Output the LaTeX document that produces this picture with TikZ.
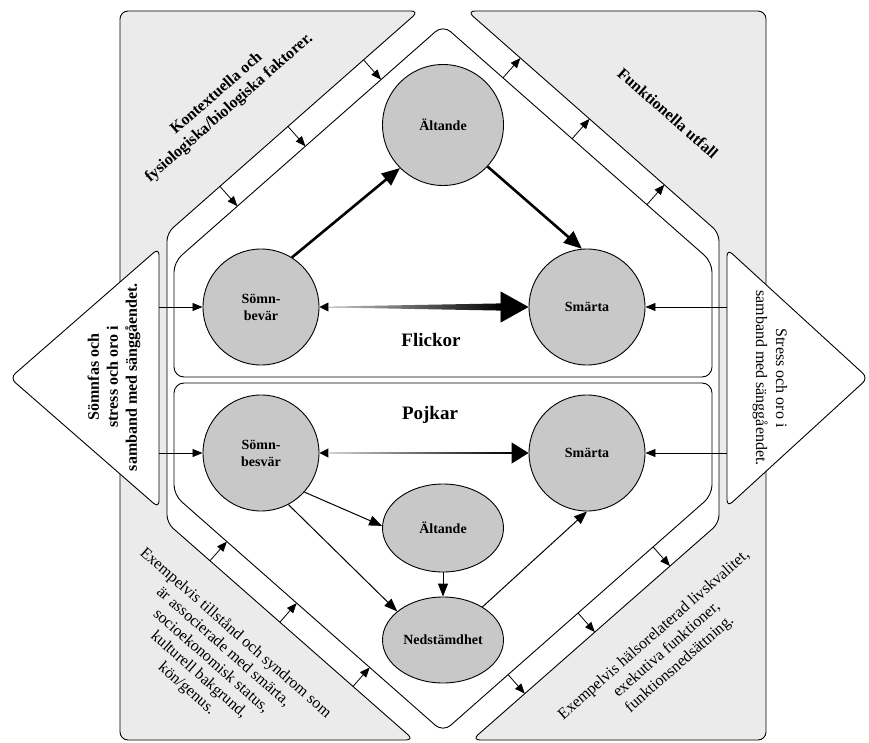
\documentclass[tikz,border=0pt]{standalone}
\usepackage{fontspec}
\setmainfont{Liberation Serif}
\usetikzlibrary{arrows.meta,shapes.geometric,calc}
\definecolor{panelgray}{RGB}{235,235,235}
\definecolor{nodegray}{RGB}{200,200,200}
\begin{document}
\begin{tikzpicture}[x=1pt,y=-1pt,
  panel/.style={draw=black, line width=0.9pt, fill=panelgray, rounded corners=8pt},
  tri/.style={draw=black, line width=0.9pt, fill=white, rounded corners=7pt},
  pent/.style={draw=black, line width=0.9pt, fill=white, rounded corners=10pt},
  circ/.style={circle, draw=black, line width=0.9pt, fill=nodegray, inner sep=0pt, align=center,
    font={\fontsize{14}{17}\selectfont\bfseries}},
  ell/.style={ellipse, draw=black, line width=0.9pt, fill=nodegray, inner sep=0pt, align=center,
    font={\fontsize{14}{17}\selectfont\bfseries}},
  bandarrow/.style={line width=0.8pt, -{Triangle[length=10pt,width=8pt]}},
  sidearrow/.style={line width=0.8pt, -{Triangle[length=10pt,width=8pt]}},
  midarrow/.style={line width=1pt, -{Triangle[length=13pt,width=10pt]}},
  bigarrow/.style={line width=2.6pt, -{Triangle[length=18pt,width=15pt]}},
  boldtxt/.style={align=center, font={\fontsize{16}{19}\selectfont\bfseries}},
  plaintxt/.style={align=center, font={\fontsize{16}{18.5}\selectfont}},
  grouplbl/.style={font={\fontsize{19}{22}\selectfont\bfseries}}
]
\useasboundingbox (0,0) rectangle (869,743);

% ---------- gray side panels ----------
\coordinate (GL1) at (120,11);
\coordinate (GL2) at (419,11);
\coordinate (GL3) at (167,233);
\coordinate (GL4) at (167,523);
\coordinate (GL5) at (414,740);
\coordinate (GL6) at (120,740);
\coordinate (GR1) at (766,11);
\coordinate (GR2) at (467,11);
\coordinate (GR3) at (719,233);
\coordinate (GR4) at (719,523);
\coordinate (GR5) at (472,740);
\coordinate (GR6) at (766,740);
\draw[panel] (GL1) -- (GL2) -- (GL3) -- (GL4) -- (GL5) -- (GL6) -- cycle;
\draw[panel] (GR1) -- (GR2) -- (GR3) -- (GR4) -- (GR5) -- (GR6) -- cycle;

% ---------- side triangles ----------
\coordinate (TLa) at (10,378);
\coordinate (TLb) at (159,248);
\coordinate (TLc) at (159,508);
\coordinate (TRa) at (868,378);
\coordinate (TRb) at (727,249);
\coordinate (TRc) at (727,507);
\draw[tri] (TLa) -- (TLb) -- (TLc) -- cycle;
\draw[tri] (TRa) -- (TRb) -- (TRc) -- cycle;

% ---------- central hexagon halves ----------
\coordinate (HF1) at (443,25);
\coordinate (HF2) at (174,262);
\coordinate (HF3) at (174,377);
\coordinate (HF4) at (712,377);
\coordinate (HF5) at (712,262);
\coordinate (HP1) at (174,383);
\coordinate (HP2) at (712,383);
\coordinate (HP3) at (712,495);
\coordinate (HP4) at (443,732);
\coordinate (HP5) at (174,495);
\draw[pent] (HF1) -- (HF5) -- (HF4) -- (HF3) -- (HF2) -- cycle;
\draw[pent] (HP1) -- (HP2) -- (HP3) -- (HP4) -- (HP5) -- cycle;

% ---------- band arrows ----------
\foreach \n/\t in {1/0.22,2/0.52,3/0.79}{
  \coordinate (ul\n) at ($(GL2)!\t!(GL3)$);
  \coordinate (ul\n t) at ($(HF1)!(ul\n)!(HF2)$);
  \draw[bandarrow] (ul\n) -- (ul\n t);
}
\foreach \n/\t in {1/0.223,2/0.48,3/0.758}{
  \coordinate (ur\n) at ($(HF1)!\t!(HF5)$);
  \coordinate (ur\n t) at ($(GR2)!(ur\n)!(GR3)$);
  \draw[bandarrow] (ur\n) -- (ur\n t);
}
\foreach \n/\t in {1/0.174,2/0.457,3/0.753}{
  \coordinate (ll\n) at ($(GL4)!\t!(GL5)$);
  \coordinate (ll\n t) at ($(HP5)!(ll\n)!(HP4)$);
  \draw[bandarrow] (ll\n) -- (ll\n t);
}
\foreach \n/\t in {1/0.219,2/0.498,3/0.758}{
  \coordinate (lr\n) at ($(HP3)!\t!(HP4)$);
  \coordinate (lr\n t) at ($(GR4)!(lr\n)!(GR5)$);
  \draw[bandarrow] (lr\n) -- (lr\n t);
}

% ---------- panel texts ----------
\node[boldtxt, rotate=41.3] (tUL) at (223,101) {Kontextuella och\\fysiologiska/biologiska faktorer.};
\node[boldtxt, rotate=-41.3] (tUR) at (668,113) {Funktionella utfall};
\node[plaintxt, rotate=-41.3] (tLL) at (211,661) {Exempelvis tillstånd och syndrom som\\är associerade med smärta,\\socioekonomisk status,\\kulturell bakgrund,\\kön/genus.};
\node[plaintxt, rotate=41.3, font={\fontsize{16}{19.4}\selectfont}] (tLR) at (667,650) {Exempelvis hälsorelaterad livskvalitet,\\exekutiva funktioner,\\funktionsnedsättning.};
\node[boldtxt, rotate=90] (tTL) at (114,377) {Sömnfas och\\stress och oro i\\samband med sänggåendet.};
\node[plaintxt, rotate=-90, font={\fontsize{16}{20}\selectfont}] (tTR) at (770,378) {Stress och oro i\\samband med sänggåendet.};

% ---------- Flickor ----------
\node[circ, minimum size=121pt] (AlF) at (443,125) {Ältande};
\node[circ, minimum size=116pt] (SbF) at (261,307) {Sömn-\\bevär};
\node[circ, minimum size=116pt] (SmF) at (587,307) {Smärta};
\node[grouplbl] (lblF) at (431,340) {Flickor};

\draw[bigarrow] (SbF.58) -- (AlF.225);
\draw[bigarrow] (AlF.-43) -- (SmF.95);
\draw[line width=0.8pt, draw=gray!45,
  {Triangle[length=9pt,width=9pt,color=black]}-{Triangle[length=28pt,width=31pt,color=black]}]
  (SbF.east) -- (SmF.west);
\shade[left color=gray!45, right color=black]
  ($(SbF.east)+(9,-0.4)$) -- ($(SmF.west)+(-27,-3.6)$) -- ($(SmF.west)+(-27,3.6)$) -- ($(SbF.east)+(9,0.4)$) -- cycle;

\coordinate (inF) at (TLb |- SbF.west);
\coordinate (outF) at (TRb |- SmF.east);
\draw[sidearrow] (inF) -- (SbF.west);
\draw[sidearrow] (outF) -- (SmF.east);

% ---------- Pojkar ----------
\node[circ, minimum size=116pt] (SbP) at (261,453) {Sömn-\\besvär};
\node[circ, minimum size=116pt] (SmP) at (587,453) {Smärta};
\node[ell, minimum width=121pt, minimum height=88pt] (AlP) at (443,528) {Ältande};
\node[ell, minimum width=121pt, minimum height=86pt] (Ned) at (443,640) {Nedstämdhet};
\node[grouplbl] (lblP) at (430,415) {Pojkar};

\draw[line width=1pt, draw=gray!35,
  {Triangle[length=9pt,width=9pt,color=black]}-{Triangle[length=17pt,width=21pt,color=black]}]
  (SbP.east) -- (SmP.west);
\shade[left color=gray!35, right color=black]
  ($(SbP.east)+(9,-0.6)$) rectangle ($(SmP.west)+(-16,0.6)$);

\draw[midarrow] (SbP.-42) -- (AlP.178);
\draw[midarrow] (SbP.-62) -- (Ned.148);
\draw[midarrow] (AlP.south) -- (Ned.north);
\draw[midarrow] (Ned.40) -- (SmP.south);

\coordinate (inP) at (TLb |- SbP.west);
\coordinate (outP) at (TRb |- SmP.east);
\draw[sidearrow] (inP) -- (SbP.west);
\draw[sidearrow] (outP) -- (SmP.east);
\end{tikzpicture}
\end{document}
